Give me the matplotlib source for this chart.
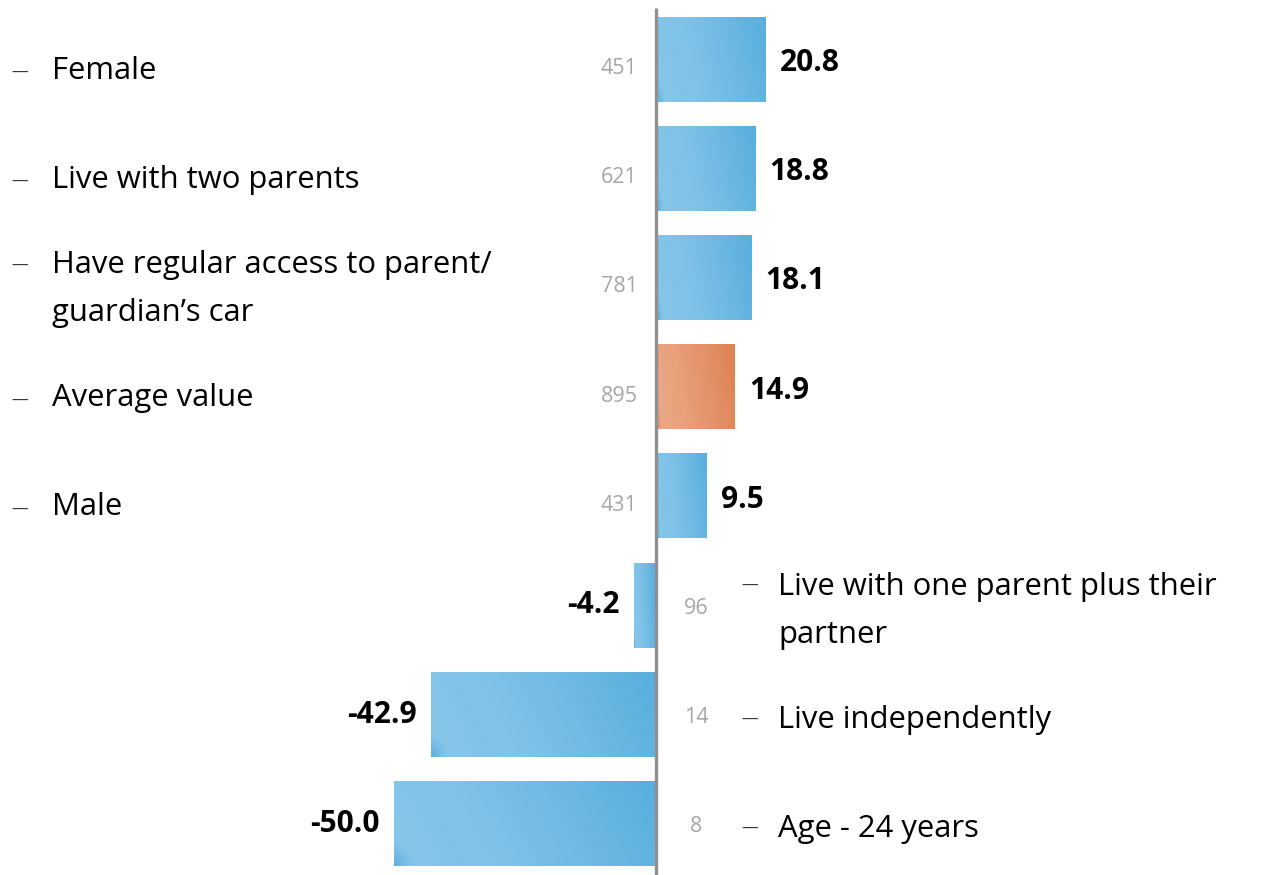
import numpy as np
import matplotlib
matplotlib.use("Agg")
import matplotlib.pyplot as plt
from matplotlib.colors import LinearSegmentedColormap

categories = ["Female", "Live with two parents", "Have regular access to parent/\nguardian\u2019s car",
              "Average value", "Male", "Live with one parent plus their\npartner",
              "Live independently", "Age - 24 years"]
values = [20.8, 18.8, 18.1, 14.9, 9.5, -4.2, -42.9, -50.0]
counts = [451, 621, 781, 895, 431, 96, 14, 8]
highlight = "Average value"

W, H = 1282, 875
fig = plt.figure(figsize=(W / 100, H / 100), dpi=100)
ax = fig.add_axes([0, 0, 1, 1])

ppu = 5.25          # pixels per unit
x0px = 656
row0, rowstep = 60, 109.1
xmin = -x0px / ppu
xmax = (W - x0px) / ppu
ymin = -row0 / rowstep
ymax = (H - row0) / rowstep

blue_cmap = LinearSegmentedColormap.from_list("b", ["#86C6E9", "#80C3E8", "#6EB9E3", "#58AEDE"])
orange_cmap = LinearSegmentedColormap.from_list("o", ["#ECAA88", "#E9A07B", "#E39168", "#DD8252"])
blue_dark = np.array([0.33, 0.66, 0.86])
orange_dark = np.array([0.86, 0.50, 0.32])

def gradient_rgb(cmap, dark, nx=200, ny=60):
    xs = np.linspace(0, 1, nx)
    ys = np.linspace(0, 1, ny)  # 0 top, 1 bottom
    X, Y = np.meshgrid(xs, ys)
    t = np.clip(X * 0.85 + (1 - Y) * 0.15, 0, 1)
    rgb = cmap(t)[..., :3]
    corner = np.clip(1 - np.hypot(X / 0.07, (1 - Y) / 0.28), 0, 1) ** 1.2
    rgb = rgb * (1 - corner[..., None] * 0.8) + dark * corner[..., None] * 0.8
    return rgb

bh = 0.77
fs_cat = 22.3
lsp = 1.80
fs_val = 21.5
fs_cnt = 15.5
for i, (cat, v, n) in enumerate(zip(categories, values, counts)):
    if cat == highlight:
        g = gradient_rgb(orange_cmap, orange_dark)
    else:
        g = gradient_rgb(blue_cmap, blue_dark)
    a, b = (0.1, v) if v >= 0 else (v, -0.35)
    ax.imshow(g, extent=[a, b, i + bh / 2, i - bh / 2],
              aspect="auto", interpolation="bilinear", zorder=2)
    nlines = cat.count("\n")
    line_off = 0.23 if nlines else 0.0
    if v >= 0:
        ax.text(v + 2.8, i + 0.03, f"{v:.1f}", ha="left", va="center", fontsize=fs_val,
                fontweight="bold", family="Open Sans", color="black", zorder=3)
        ax.text(-7.0, i + 0.08, str(n), ha="center", va="center", fontsize=fs_cnt,
                family="Open Sans", color="#A6A6A6")
        ax.text(xmin + 20 / ppu, i + 0.12 - line_off, "\u2014", ha="center", va="center",
                fontsize=12, family="Open Sans", color="#333333")
        ax.text(xmin + 52 / ppu, i + 0.10, cat, ha="left", va="center", fontsize=fs_cat,
                family="Open Sans", color="black", linespacing=lsp)
    else:
        ax.text(v - 2.7, i + 0.0, f"{v:.1f}", ha="right", va="center", fontsize=fs_val,
                fontweight="bold", family="Open Sans", color="black", zorder=3)
        ax.text(7.7, i + 0.03, str(n), ha="center", va="center", fontsize=fs_cnt,
                family="Open Sans", color="#A6A6A6")
        ax.text(17.9, i + 0.05 - line_off, "\u2014", ha="center",
                va="center", fontsize=12, family="Open Sans", color="#333333")
        ax.text(23.3, i + 0.05, cat, ha="left", va="center", fontsize=fs_cat,
                family="Open Sans", color="black", linespacing=lsp)

ax.plot([0, 0], [-0.48, ymax + 0.1], color="#909090", lw=2.4, zorder=4, solid_capstyle="butt")

ax.set_xlim(xmin, xmax)
ax.set_ylim(ymax, ymin)
ax.axis("off")
fig.savefig("out.png", dpi=100)
